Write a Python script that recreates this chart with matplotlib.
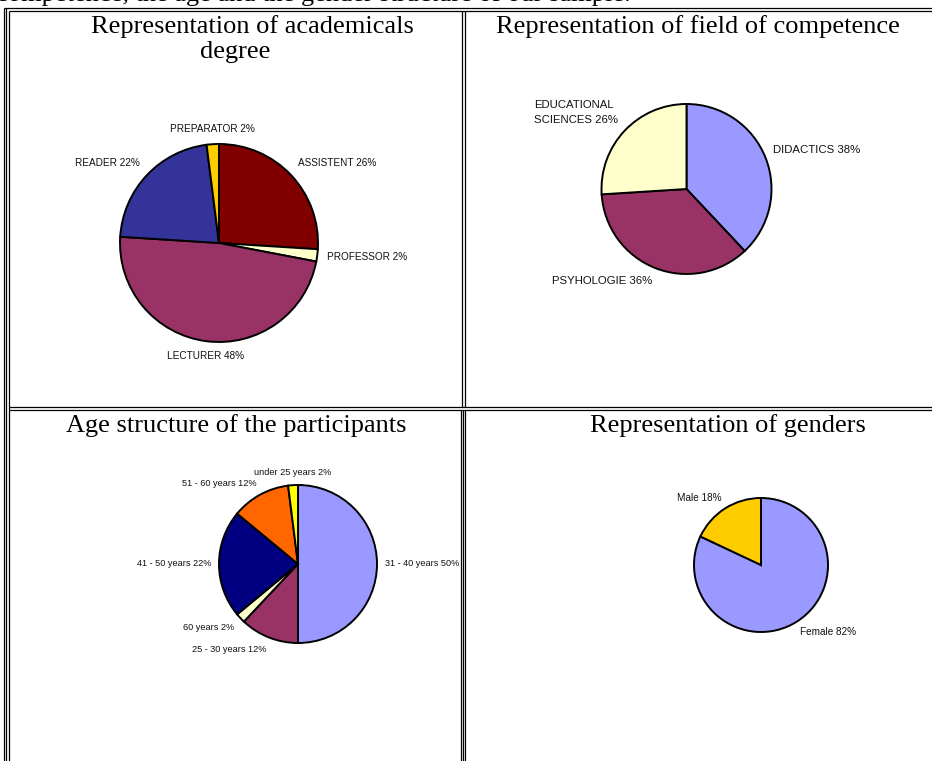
import numpy as np
import matplotlib
matplotlib.use("Agg")
import matplotlib.pyplot as plt

W, H = 932, 761

# Données des quatre camemberts
degree_names = ["ASSISTENT", "PROFESSOR", "LECTURER", "READER", "PREPARATOR"]
degree_pct = [26, 2, 48, 22, 2]
degree_colors = ["#800000", "#FFFFCC", "#993366", "#333399", "#FFCC00"]

field_names = ["DIDACTICS", "PSYHOLOGIE", "EDUCATIONAL\nSCIENCES"]
field_pct = [38, 36, 26]
field_colors = ["#9999FF", "#993366", "#FFFFCC"]

age_names = ["31 - 40 years", "25 - 30 years", "60 years", "41 - 50 years",
             "51 - 60 years", "under 25 years"]
age_pct = [50, 12, 2, 22, 12, 2]
age_colors = ["#9999FF", "#993366", "#FFFFCC", "#000080", "#FF6600", "#FFFF00"]

gender_names = ["Female", "Male"]
gender_pct = [82, 18]
gender_colors = ["#9999FF", "#FFCC00"]

titles = ["Representation of academicals", "degree",
          "Representation of field of competence",
          "Age structure of the participants", "Representation of genders"]

SERIF = "Liberation Serif"
SANS = "Liberation Sans"
TSIZE = 19

fig = plt.figure(figsize=(W / 100, H / 100), dpi=100)
fig.patch.set_facecolor("white")

# calque en pixels pour le tableau et les titres
ov = fig.add_axes([0, 0, 1, 1])
ov.set_xlim(0, W)
ov.set_ylim(H, 0)
ov.axis("off")


def hline(y, x0=0, x1=W):
    ov.plot([x0, x1], [y, y], color="black", lw=0.9, solid_capstyle="butt")


def vline(x, y0=0, y1=H):
    ov.plot([x, x], [y0, y1], color="black", lw=0.9, solid_capstyle="butt")


# bordures (double trait du tableau)
for x in (3.5, 5.5, 8.5):
    vline(x, 7.5 if x < 8 else 10.5)
hline(7.5, 3.5)
hline(10.5, 8.5)
hline(406.5, 8.5)
hline(409.5, 8.5)
vline(461.5, 10.5, 406.5)
vline(464.5, 10.5, 406.5)
for x in (460.5, 462.5, 464.5):
    vline(x, 409.5)

# texte coupé en haut de page
ov.text(-4, 1.0, "competence, the age and the gender structure of our sample.",
        ha="left", va="baseline", family=SERIF, fontsize=TSIZE)

# titres
ov.text(252.5, 33, titles[0], ha="center", va="baseline", family=SERIF, fontsize=TSIZE)
ov.text(235, 58, titles[1], ha="center", va="baseline", family=SERIF, fontsize=TSIZE)
ov.text(697.5, 33, titles[2], ha="center", va="baseline", family=SERIF, fontsize=TSIZE)
ov.text(236, 432, titles[3], ha="center", va="baseline", family=SERIF, fontsize=TSIZE)
ov.text(728, 432, titles[4], ha="center", va="baseline", family=SERIF, fontsize=TSIZE)


def camembert(cx, cy, r, names, pct, colors, fs):
    m = 1.25
    ax = fig.add_axes([(cx - m * r) / W, 1 - (cy + m * r) / H,
                       2 * m * r / W, 2 * m * r / H])
    labels = [f"{n} {p}%" for n, p in zip(names, pct)]
    wedges, texts = ax.pie(pct, labels=labels, colors=colors, startangle=90,
                           counterclock=False, labeldistance=1.1,
                           wedgeprops=dict(edgecolor="black", linewidth=1.4),
                           textprops=dict(family=SANS, fontsize=fs, color="#111111"))
    for w, t in zip(wedges, texts):
        a = np.deg2rad((w.theta1 + w.theta2) / 2)
        c, s = np.cos(a), np.sin(a)
        t.set_ha("left" if c > 0.2 else "right" if c < -0.2 else "center")
        t.set_va("bottom" if s > 0.3 else "top" if s < -0.3 else "center")
        t.set_multialignment("left")
        t.set_linespacing(1.6)
    ax.set_xlim(-m, m)
    ax.set_ylim(-m, m)
    ax.axis("off")


camembert(219, 243, 99, degree_names, degree_pct, degree_colors, 7.2)
camembert(686.5, 189, 85, field_names, field_pct, field_colors, 8.2)
camembert(298, 564, 79, age_names, age_pct, age_colors, 6.6)
camembert(761, 565, 67, gender_names, gender_pct, gender_colors, 7.2)

plt.savefig("out.png", dpi=100, facecolor="white")
